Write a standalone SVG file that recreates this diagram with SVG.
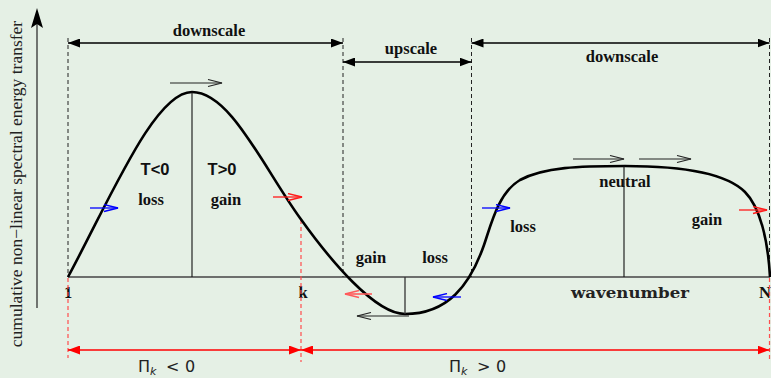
<svg xmlns="http://www.w3.org/2000/svg" width="771" height="378" viewBox="0 0 771 378">
<style>
.lbl{font-family:"Liberation Serif","Times New Roman",serif;font-weight:bold;font-size:16.5px;fill:#111;text-anchor:middle}
.sans{font-family:"Liberation Sans",Arial,sans-serif;font-weight:bold;font-size:16.5px;fill:#111;text-anchor:middle}
.math{font-family:"DejaVu Sans",sans-serif;font-size:16px;fill:#222}
.dash{stroke:#222;stroke-width:1;stroke-dasharray:4,3;fill:none}
.rdash{stroke:#ff4d4d;stroke-width:1.2;stroke-dasharray:4,3;fill:none}
.thin{stroke:#111;stroke-width:1.1;fill:none}
.curve{stroke:#000;stroke-width:2.6;fill:none;stroke-linejoin:round}
.dim{stroke:#000;stroke-width:1.3;fill:none;marker-start:url(#fb);marker-end:url(#fb)}
.rdim{stroke:#ff0000;stroke-width:1.4;fill:none;marker-start:url(#fr);marker-end:url(#fr)}
.ob{stroke:#222;stroke-width:1.1;fill:none;marker-end:url(#ob)}
.obl{stroke:#0000ff;stroke-width:1.3;fill:none;marker-end:url(#obl)}
.ored{stroke:#ff1a1a;stroke-width:1.3;fill:none;marker-end:url(#ored)}
.olred{stroke:#ff5a5a;stroke-width:1.6;fill:none;marker-end:url(#olred)}
</style>
<defs>
<marker id="fb" markerUnits="userSpaceOnUse" markerWidth="12" markerHeight="9" refX="12" refY="4.5" orient="auto-start-reverse"><path d="M0,0 L12,4.5 L0,9 z" fill="#000"/></marker>
<marker id="fr" markerUnits="userSpaceOnUse" markerWidth="12" markerHeight="9" refX="12" refY="4.5" orient="auto-start-reverse"><path d="M0,0 L12,4.5 L0,9 z" fill="#ff0000"/></marker>
<marker id="ob" markerUnits="userSpaceOnUse" markerWidth="16" markerHeight="9" refX="15" refY="4.5" orient="auto"><path d="M1,1 L15,4.5 L1,8" fill="none" stroke="#222" stroke-width="1.1"/></marker>
<marker id="obl" markerUnits="userSpaceOnUse" markerWidth="16" markerHeight="9" refX="15" refY="4.5" orient="auto"><path d="M1,1 L15,4.5 L1,8" fill="none" stroke="#0000ff" stroke-width="1.3"/></marker>
<marker id="ored" markerUnits="userSpaceOnUse" markerWidth="16" markerHeight="9" refX="15" refY="4.5" orient="auto"><path d="M1,1 L15,4.5 L1,8" fill="none" stroke="#ff1a1a" stroke-width="1.3"/></marker>
<marker id="olred" markerUnits="userSpaceOnUse" markerWidth="16" markerHeight="9" refX="15" refY="4.5" orient="auto"><path d="M1,1 L15,4.5 L1,8" fill="none" stroke="#ff5a5a" stroke-width="1.5"/></marker>
</defs>
<rect x="0" y="0" width="771" height="378" fill="#e5f0e5"/>

<g id="y-axis">
<line x1="37" y1="308" x2="37" y2="24" stroke="#222" stroke-width="1.2"/>
<path d="M37,8 L43,28 L37,24 L31,28 z" fill="#000"/>
<text transform="translate(22,184) rotate(-90)" font-family="'Liberation Serif','Times New Roman',serif" font-size="17.5" fill="#222" text-anchor="middle">cumulative non−linear spectral energy transfer</text>
</g>

<g id="x-axis">
<line x1="68" y1="277" x2="770" y2="277" stroke="#444" stroke-width="1.6"/>
<text class="lbl" x="68" y="298">1</text>
<text class="lbl" x="303" y="298">k</text>
<text class="lbl" x="765" y="298">N</text>
<text x="630" y="298" font-family="'DejaVu Serif',serif" font-weight="bold" font-size="15" fill="#222" text-anchor="middle" textLength="118" lengthAdjust="spacingAndGlyphs">wavenumber</text>
</g>

<g id="guides">
<line class="dash" x1="68" y1="38" x2="68" y2="277"/>
<line class="dash" x1="343" y1="38" x2="343" y2="277"/>
<line class="dash" x1="471.5" y1="38" x2="471.5" y2="277"/>
<line class="dash" x1="769.5" y1="38" x2="769.5" y2="277"/>
<line class="rdash" x1="68" y1="278" x2="68" y2="358"/>
<line class="rdash" x1="301" y1="220" x2="301" y2="362"/>
<line class="rdash" x1="769.5" y1="278" x2="769.5" y2="362"/>
</g>

<g id="curve">
<path class="curve" d="M68,277 C112,195 155,92 192,92 C230,92 262,165 300,218 C330,260 375,314 405,314 C448,314 470,285 484,245 C491,225 498,193 520,180 C544,167 580,166 625,166 C680,166 725,172 745,192 C760,207 768,240 770,277"/>
<line class="thin" x1="192" y1="92" x2="192" y2="277"/>
<line x1="405" y1="277" x2="405" y2="314" stroke="#333" stroke-width="1.3"/>
<line class="thin" x1="624" y1="166" x2="624" y2="277"/>
</g>

<g id="connectors">
<line class="dim" x1="68" y1="43" x2="343" y2="43"/>
<line class="dim" x1="343" y1="62" x2="471.5" y2="62"/>
<line class="dim" x1="471.5" y1="43" x2="769.5" y2="43"/>
<line class="rdim" x1="68" y1="350" x2="301" y2="350"/>
<line class="rdim" x1="301" y1="350" x2="769.5" y2="350"/>
<line class="ob" x1="170" y1="83" x2="222" y2="83"/>
<line class="ob" x1="573" y1="159" x2="624" y2="159"/>
<line class="ob" x1="639" y1="159" x2="691" y2="159"/>
<line class="ob" x1="409" y1="316" x2="357" y2="316"/>
<line class="obl" x1="90" y1="208" x2="118" y2="208"/>
<line class="ored" x1="273" y1="197" x2="302" y2="197"/>
<line class="olred" x1="372" y1="294" x2="345" y2="294"/>
<line class="obl" x1="461" y1="297" x2="433" y2="297"/>
<line class="obl" x1="482" y1="208" x2="510" y2="208"/>
<line class="ored" x1="739" y1="210" x2="767" y2="210"/>
</g>

<g id="labels">
<text class="lbl" x="209" y="36">downscale</text>
<text class="lbl" x="411" y="54">upscale</text>
<text class="lbl" x="622" y="62">downscale</text>
<text class="sans" x="155" y="175">T&lt;0</text>
<text class="sans" x="222" y="175">T&gt;0</text>
<text class="lbl" x="151" y="205">loss</text>
<text class="lbl" x="226" y="205">gain</text>
<text class="lbl" x="371" y="263">gain</text>
<text class="lbl" x="435" y="263">loss</text>
<text class="lbl" x="523" y="232">loss</text>
<text class="lbl" x="625" y="187">neutral</text>
<text class="lbl" x="707" y="225">gain</text>
</g>

<g id="pi-labels">
<text class="math" y="372"><tspan x="138">Π</tspan><tspan x="150" y="375" font-style="italic" font-size="11">k</tspan><tspan x="166" y="372">&lt;</tspan><tspan x="185">0</tspan></text>
<text class="math" y="372"><tspan x="449">Π</tspan><tspan x="461" y="375" font-style="italic" font-size="11">k</tspan><tspan x="477" y="372">&gt;</tspan><tspan x="496">0</tspan></text>
</g>
</svg>
